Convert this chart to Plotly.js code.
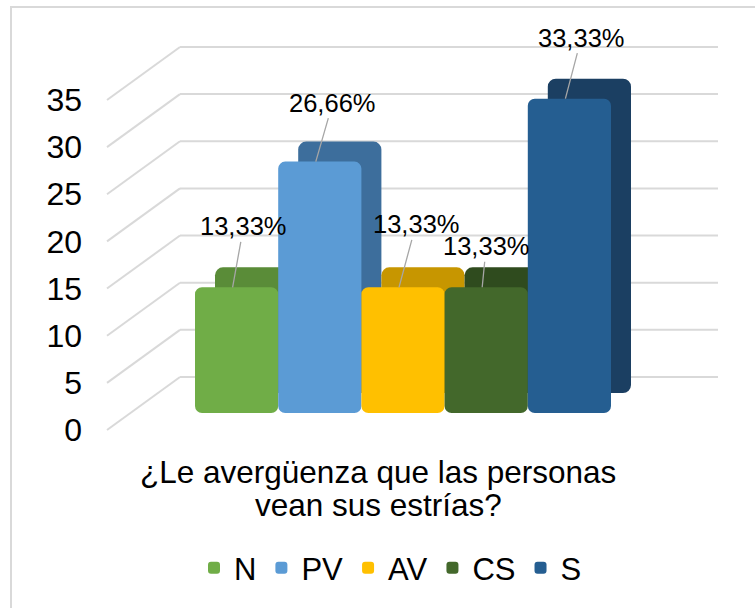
<!DOCTYPE html>
<html>
<head>
<meta charset="utf-8">
<script src="https://cdn.plot.ly/plotly-3.0.1.min.js"></script>
<style>
  html, body { margin: 0; padding: 0; background: #fff; overflow: hidden; }
  #wrap { position: relative; width: 755px; height: 608px; }
  #chart { position: absolute; left: 0; top: 0; width: 755px; height: 608px; }
  #frame { position: absolute; left: 10px; top: 6px; width: 800px; height: 700px;
           border-left: 2px solid #d9d9d9; border-top: 2px solid #d9d9d9; pointer-events: none; }
</style>
</head>
<body>
<div id="wrap"><div id="chart"></div><div id="frame"></div></div>
<script>
// ---- data ----
const categories = ['¿Le avergüenza que las personas vean sus estrías?'];
const categoryLines = ['¿Le avergüenza que las personas', 'vean sus estrías?'];
const seriesNames = ['N', 'PV', 'AV', 'CS', 'S'];
const seriesValues = [13.33, 26.66, 13.33, 13.33, 33.33];
const labelTexts = ['13,33%', '26,66%', '13,33%', '13,33%', '33,33%'];
const yTicks = [0, 5, 10, 15, 20, 25, 30, 35];

// ---- styles ----
const frontColors = ['#70AD47', '#5B9BD5', '#FFC000', '#43682B', '#255E91'];
const sideColors  = ['#5A8C38', '#3D6E9C', '#C79600', '#2F4B1E', '#1B3F62'];
const labelOffsets = [[11, -61], [17, -59], [17, -63], [4, -41], [16, -61]];
const FONT = 'Liberation Sans, Arial, sans-serif';

// ---- geometry (pixels) ----
const W = 755, H = 608;
const plotL = 105, plotR = 718, plotT = 20, plotB = 440;
const zeroPx = 413;            // pixel of value 0 on the bar front faces
const pxPerUnit = 9.43;
const plotW = plotR - plotL, plotH = plotB - plotT;
const yMin = (zeroPx - plotB) / pxPerUnit;
const yMax = (zeroPx - plotT) / pxPerUnit;
const xCenterPx = plotL + plotW / 2;
const pxToX = px => (px - xCenterPx) / plotW;   // x range [-0.5, 0.5]
const paperX = px => (px - plotL) / plotW;
const paperY = px => (plotB - px) / plotH;

const barLeftPx = 195, barWpx = 83.2;
const depthPx = 20;
const barW = barWpx / plotW;
const depthX = depthPx / plotW, depthY = depthPx / pxPerUnit;
const wallOffset = 36 / pxPerUnit;   // back-wall gridline offset
const labelDrop = 17;                // tick label below front value

const traces = [];
// back (depth) faces
seriesNames.forEach((name, i) => {
  const off = pxToX(barLeftPx + i * barWpx) + depthX;
  traces.push({
    type: 'bar', x: categories, y: [seriesValues[i]], base: [depthY],
    width: [barW], offset: [off], name: name, showlegend: false, hoverinfo: 'skip',
    marker: { color: sideColors[i], cornerradius: 8, line: { width: 0 } }
  });
});
// front faces
seriesNames.forEach((name, i) => {
  const off = pxToX(barLeftPx + i * barWpx);
  traces.push({
    type: 'bar', x: categories, y: [seriesValues[i]], base: [0],
    width: [barW], offset: [off], name: name, showlegend: true,
    marker: { color: frontColors[i], cornerradius: 7, line: { width: 0 } }
  });
});

const shapes = [];
yTicks.forEach(v => {
  shapes.push({ type: 'line', layer: 'below', xref: 'paper', yref: 'y',
    x0: paperX(180), x1: 1, y0: v + wallOffset, y1: v + wallOffset,
    line: { color: '#d9d9d9', width: 2 } });
  shapes.push({ type: 'line', layer: 'below', xref: 'paper', yref: 'y',
    x0: paperX(107), x1: paperX(180), y0: v - labelDrop / pxPerUnit, y1: v + wallOffset,
    line: { color: '#d9d9d9', width: 2 } });
});

const annotations = [];
seriesValues.forEach((v, i) => {
  const centerPx = barLeftPx + i * barWpx + barWpx / 2 - 4;
  annotations.push({
    x: pxToX(centerPx), y: v, xref: 'x', yref: 'y',
    text: labelTexts[i], showarrow: true, arrowhead: 0, arrowwidth: 1.3,
    arrowcolor: '#a6a6a6', ax: labelOffsets[i][0], ay: labelOffsets[i][1],
    standoff: 0, font: { family: FONT, size: 25.5, color: '#000' }
  });
});
categoryLines.forEach((t, j) => {
  annotations.push({
    xref: 'paper', yref: 'paper', x: paperX(378), y: paperY(472 + j * 33),
    xanchor: 'center', yanchor: 'middle', showarrow: false, text: t,
    font: { family: FONT, size: 31.5, color: '#000' }
  });
});

const layout = {
  width: W, height: H,
  margin: { l: plotL, r: W - plotR, t: plotT, b: H - plotB, pad: 0 },
  paper_bgcolor: 'rgba(0,0,0,0)', plot_bgcolor: 'rgba(0,0,0,0)',
  barmode: 'overlay',
  showlegend: true,
  font: { family: FONT, color: '#000' },
  xaxis: { type: 'category', range: [-0.5, 0.5], showgrid: false, zeroline: false,
           showline: false, showticklabels: false, ticks: '' },
  yaxis: { range: [yMin, yMax], tickvals: yTicks, ticktext: yTicks.map(String),
           showgrid: false, zeroline: false, showline: false, ticks: '',
           ticklabelshift: labelDrop, ticklabelstandoff: 22,
           tickfont: { family: FONT, size: 32, color: '#000' } },
  legend: { orientation: 'h', x: paperX(194), xanchor: 'left', y: paperY(568), yanchor: 'middle',
            font: { family: FONT, size: 31, color: '#000' }, traceorder: 'normal',
            itemclick: false, bgcolor: 'rgba(0,0,0,0)' },
  shapes: shapes,
  annotations: annotations
};

Plotly.newPlot('chart', traces, layout, { displayModeBar: false, staticPlot: true });
</script>
</body>
</html>
